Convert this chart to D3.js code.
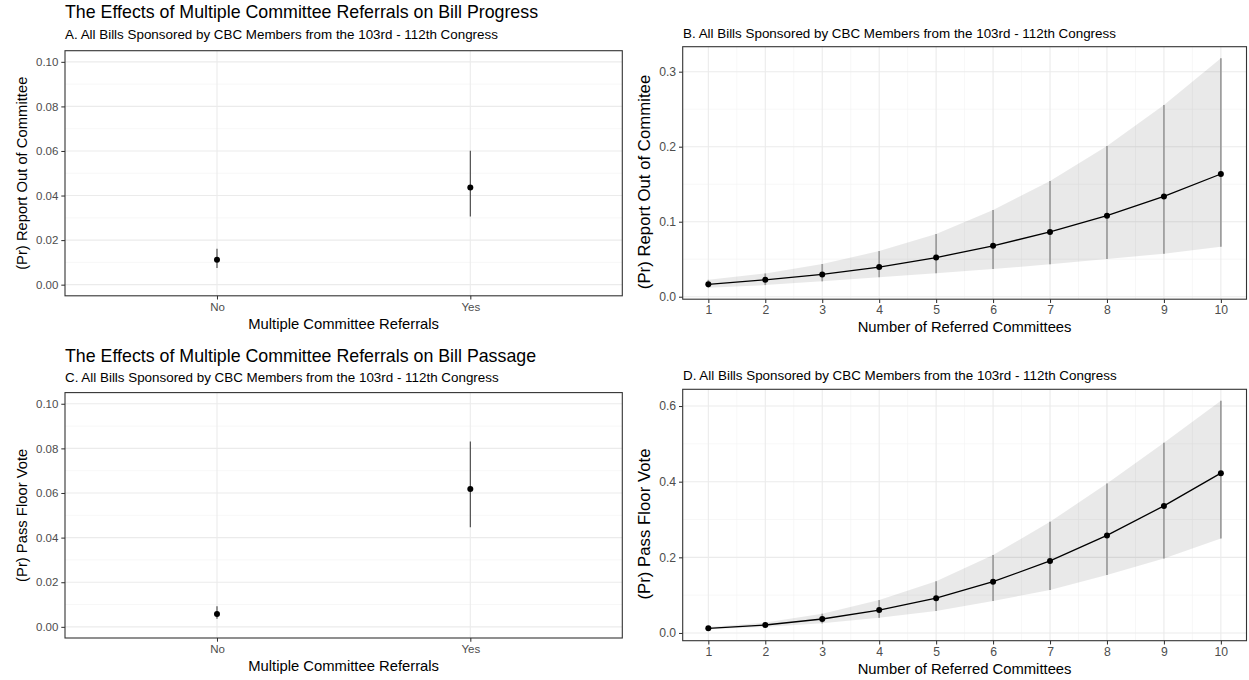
<!DOCTYPE html>
<html>
<head>
<meta charset="utf-8">
<script src="https://cdn.jsdelivr.net/npm/d3@7"></script>
<style>
  html, body { margin: 0; padding: 0; background: #fff; }
  svg { display: block; }
  text { font-family: "Liberation Sans", Arial, Helvetica, sans-serif; }
</style>
</head>
<body>
<svg id="chart" width="1249" height="680"></svg>
<script>
// ---- Data -------------------------------------------------------------
const referralLevels = ["No", "Yes"];

// Panel A: probability of being reported out of committee
const reportByReferral     = [0.0112, 0.0436];
const reportByReferralLow  = [0.0075, 0.0306];
const reportByReferralHigh = [0.0161, 0.0601];

// Panel C: probability of passing a floor vote
const passByReferral     = [0.0058, 0.0618];
const passByReferralLow  = [0.0036, 0.0446];
const passByReferralHigh = [0.0092, 0.0831];

const committeeCounts = [1, 2, 3, 4, 5, 6, 7, 8, 9, 10];

// Panel B: report out of committee by number of referred committees
const reportByCount     = [0.0165, 0.0225, 0.0297, 0.0395, 0.0522, 0.0678, 0.0863, 0.1080, 0.1337, 0.1636];
const reportByCountLow  = [0.0120, 0.0155, 0.0205, 0.0260, 0.0312, 0.0369, 0.0432, 0.0503, 0.0573, 0.0667];
const reportByCountHigh = [0.0225, 0.0310, 0.0436, 0.0609, 0.0836, 0.1156, 0.1543, 0.2009, 0.2556, 0.3180];

// Panel D: pass floor vote by number of referred committees
const passByCount     = [0.0124, 0.0211, 0.0370, 0.0607, 0.0920, 0.1355, 0.1905, 0.2580, 0.3360, 0.4225];
const passByCountLow  = [0.0098, 0.0160, 0.0255, 0.0400, 0.0580, 0.0844, 0.1135, 0.1530, 0.1970, 0.2500];
const passByCountHigh = [0.0155, 0.0275, 0.0510, 0.0870, 0.1370, 0.2060, 0.2940, 0.3950, 0.5030, 0.6140];

const discreteTicks = [0, 0.02, 0.04, 0.06, 0.08, 0.10];
const discreteMinor = [0.01, 0.03, 0.05, 0.07, 0.09];

const titles = {
  progress: "The Effects of Multiple Committee Referrals on Bill Progress",
  passage:  "The Effects of Multiple Committee Referrals on Bill Passage",
  a: "A. All Bills Sponsored by CBC Members from the 103rd - 112th Congress",
  b: "B. All Bills Sponsored by CBC Members from the 103rd - 112th Congress",
  c: "C. All Bills Sponsored by CBC Members from the 103rd - 112th Congress",
  d: "D. All Bills Sponsored by CBC Members from the 103rd - 112th Congress"
};

// ---- Styling ----------------------------------------------------------
const TICK_LEN = 3.7, TICK_PAD = 2.9;
const AXIS_TITLE_FONT = 14.8, TITLE_FONT = 17.8, SUBTITLE_FONT = 13.4;
const GRID_MAJOR = "#EBEBEB", GRID_MINOR = "#F2F2F2", BORDER = "#333333", TICK_TEXT = "#4D4D4D";

const svg = d3.select("#chart");

function expand(lo, hi, frac) {
  const pad = (hi - lo) * frac;
  return [lo - pad, hi + pad];
}

function frame(box) {
  const g = svg.append("g");
  g.append("rect")
    .attr("x", box.left).attr("y", box.top)
    .attr("width", box.right - box.left).attr("height", box.bottom - box.top)
    .attr("fill", "#fff");
  return g;
}

function hGrid(g, y, box, values, color, width) {
  g.append("g").selectAll("line").data(values).join("line")
    .attr("x1", box.left).attr("x2", box.right)
    .attr("y1", d => y(d)).attr("y2", d => y(d))
    .attr("stroke", color).attr("stroke-width", width);
}

function vGrid(g, xpos, box, values, color, width) {
  g.append("g").selectAll("line").data(values).join("line")
    .attr("y1", box.top).attr("y2", box.bottom)
    .attr("x1", d => xpos(d)).attr("x2", d => xpos(d))
    .attr("stroke", color).attr("stroke-width", width);
}

function styleAxis(sel, fontSize) {
  sel.select(".domain").remove();
  sel.selectAll(".tick line").attr("stroke", BORDER).attr("stroke-width", 1.05);
  sel.selectAll(".tick text")
    .attr("fill", TICK_TEXT)
    .attr("font-size", fontSize)
    .attr("font-family", "'Liberation Sans', Arial, sans-serif");
}

// opts: yTicks, yFormat, xTitle, yTitle, yTitleX, yTitleY, yTitleSize, tickFont, xTicks
function axesAndLabels(g, box, x, y, opts) {
  const ax = d3.axisBottom(x).tickSize(TICK_LEN).tickPadding(TICK_PAD);
  if (opts.xTicks) ax.tickValues(opts.xTicks).tickFormat(d3.format("d"));
  g.append("g").attr("transform", `translate(0,${box.bottom})`)
    .call(ax).call(styleAxis, opts.tickFont);

  g.append("g").attr("transform", `translate(${box.left},0)`)
    .call(d3.axisLeft(y).tickValues(opts.yTicks).tickFormat(d3.format(opts.yFormat))
      .tickSize(TICK_LEN).tickPadding(TICK_PAD))
    .call(styleAxis, opts.tickFont);

  g.append("rect")
    .attr("x", box.left).attr("y", box.top)
    .attr("width", box.right - box.left).attr("height", box.bottom - box.top)
    .attr("fill", "none").attr("stroke", BORDER).attr("stroke-width", 1.1);

  g.append("text")
    .attr("x", (box.left + box.right) / 2).attr("y", box.bottom + 33)
    .attr("text-anchor", "middle").attr("font-size", AXIS_TITLE_FONT).attr("fill", "#000")
    .text(opts.xTitle);

  g.append("text")
    .attr("transform", `translate(${opts.yTitleX},${opts.yTitleY}) rotate(-90)`)
    .attr("text-anchor", "middle").attr("font-size", opts.yTitleSize).attr("fill", "#000")
    .text(opts.yTitle);
}

// ---- Two-category point estimate panels (A, C) -------------------------
function drawDiscretePanel(box, est, low, high, yTitle) {
  const g = frame(box);
  const x = d3.scalePoint().domain(referralLevels).range([box.left, box.right]).padding(0.6);
  const y = d3.scaleLinear().domain(expand(0, 0.10, 0.05)).range([box.bottom, box.top]);

  hGrid(g, y, box, discreteMinor, GRID_MINOR, 0.6);
  hGrid(g, y, box, discreteTicks, GRID_MAJOR, 1.1);
  vGrid(g, x, box, referralLevels, GRID_MAJOR, 1.1);

  const rows = referralLevels.map((k, i) => ({ k, est: est[i], lo: low[i], hi: high[i] }));
  g.append("g").selectAll("line").data(rows).join("line")
    .attr("x1", d => x(d.k)).attr("x2", d => x(d.k))
    .attr("y1", d => y(d.lo)).attr("y2", d => y(d.hi))
    .attr("stroke", "#3a3a3a").attr("stroke-width", 1.05);
  g.append("g").selectAll("circle").data(rows).join("circle")
    .attr("cx", d => x(d.k)).attr("cy", d => y(d.est)).attr("r", 3)
    .attr("fill", "#000");

  axesAndLabels(g, box, x, y, {
    yTicks: discreteTicks, yFormat: ".2f",
    xTitle: "Multiple Committee Referrals", yTitle,
    yTitleX: 26.9, yTitleY: (box.top + box.bottom) / 2,
    yTitleSize: AXIS_TITLE_FONT, tickFont: 11.5
  });
}

// ---- Count panels with ribbon (B, D) ----------------------------------
function drawCountPanel(box, est, low, high, yTitle, yTicks, yMinor) {
  const g = frame(box);
  const x = d3.scaleLinear()
    .domain(expand(d3.min(committeeCounts), d3.max(committeeCounts), 0.05))
    .range([box.left, box.right]);
  const y = d3.scaleLinear()
    .domain(expand(d3.min(low), d3.max(high), 0.05))
    .range([box.bottom, box.top]);

  const xMinor = committeeCounts.slice(0, -1).map(c => c + 0.5);
  hGrid(g, y, box, yMinor, GRID_MINOR, 0.6);
  vGrid(g, x, box, xMinor, GRID_MINOR, 0.6);
  hGrid(g, y, box, yTicks, GRID_MAJOR, 1.1);
  vGrid(g, x, box, committeeCounts, GRID_MAJOR, 1.1);

  const rows = committeeCounts.map((c, i) => ({ c, est: est[i], lo: low[i], hi: high[i] }));

  g.append("path").datum(rows)
    .attr("d", d3.area().x(d => x(d.c)).y0(d => y(d.lo)).y1(d => y(d.hi)))
    .attr("fill", "#000").attr("fill-opacity", 0.085);

  g.append("g").selectAll("line").data(rows).join("line")
    .attr("x1", d => x(d.c)).attr("x2", d => x(d.c))
    .attr("y1", d => y(d.lo)).attr("y2", d => y(d.hi))
    .attr("stroke", "#9c9c9c").attr("stroke-width", 1.7);

  g.append("path").datum(rows)
    .attr("d", d3.line().x(d => x(d.c)).y(d => y(d.est)))
    .attr("fill", "none").attr("stroke", "#000").attr("stroke-width", 1.3);

  g.append("g").selectAll("circle").data(rows).join("circle")
    .attr("cx", d => x(d.c)).attr("cy", d => y(d.est)).attr("r", 3)
    .attr("fill", "#000");

  axesAndLabels(g, box, x, y, {
    yTicks, yFormat: ".1f",
    xTitle: "Number of Referred Committees", yTitle,
    yTitleX: box.left - 33.2, yTitleY: (box.top + box.bottom) / 2 + 9,
    yTitleSize: 16.8, tickFont: 12.2, xTicks: committeeCounts
  });
}

function heading(x, y, size, str) {
  svg.append("text").attr("x", x).attr("y", y)
    .attr("font-size", size).attr("fill", "#000").text(str);
}

// ---- Layout -----------------------------------------------------------
const boxA = { left: 65,    right: 622.3,  top: 50.7,  bottom: 295.8 };
const boxB = { left: 682.7, right: 1246.5, top: 46.7,  bottom: 299.2 };
const boxC = { left: 65,    right: 622.3,  top: 392.6, bottom: 638.0 };
const boxD = { left: 682.7, right: 1246.5, top: 389.3, bottom: 640.7 };

heading(65, 18, TITLE_FONT, titles.progress);
heading(65, 38.9, SUBTITLE_FONT, titles.a);
heading(683, 37.9, SUBTITLE_FONT, titles.b);
heading(65, 361.5, TITLE_FONT, titles.passage);
heading(65, 382.4, SUBTITLE_FONT, titles.c);
heading(683, 379.6, SUBTITLE_FONT, titles.d);

drawDiscretePanel(boxA, reportByReferral, reportByReferralLow, reportByReferralHigh,
  "(Pr) Report Out of Committee");
drawCountPanel(boxB, reportByCount, reportByCountLow, reportByCountHigh,
  "(Pr) Report Out of Commitee", [0, 0.1, 0.2, 0.3], [0.05, 0.15, 0.25]);
drawDiscretePanel(boxC, passByReferral, passByReferralLow, passByReferralHigh,
  "(Pr) Pass Floor Vote");
drawCountPanel(boxD, passByCount, passByCountLow, passByCountHigh,
  "(Pr) Pass Floor Vote", [0, 0.2, 0.4, 0.6], [0.1, 0.3, 0.5]);
</script>
</body>
</html>
